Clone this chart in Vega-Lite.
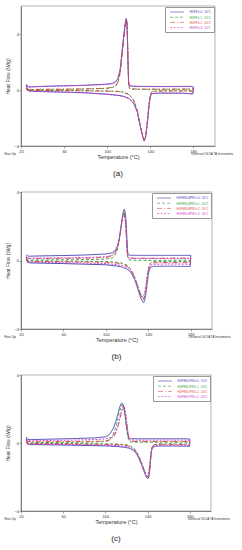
{
"$schema":"https://vega.github.io/schema/vega-lite/v6.json",
"background":"white",
"padding":{"left":4,"top":5,"right":2,"bottom":0},
"spacing":10,
"config":{
 "font":"Liberation Sans",
 "view":{"stroke":"#666","strokeWidth":0.5},
 "axis":{"grid":false,"labelFontSize":4,"titleFontSize":5,"titleFontWeight":"normal","tickSize":2,"tickWidth":0.5,"domainWidth":0.6,"domainColor":"#444","tickColor":"#444","labelColor":"#333","titleColor":"#333","labelPadding":1,"labelOverlap":false,"labelFlush":false},
 "axisY":{"titlePadding":3,"labelPadding":0.5},
 "axisX":{"titlePadding":1.5,"titleFontSize":5.5},
 "legend":{"orient":"top-right","offset":1,"title":null,"symbolType":"M-4,0H4","symbolSize":12,"symbolOffset":7,"symbolStrokeWidth":0.6,"labelFontSize":2.8,"rowPadding":0.2,"padding":2.5,"strokeColor":"#999","fillColor":"white","labelOffset":10,"labelColor":{"expr":"['#3b3bb3','#2e9a3a','#d9453a','#cc33cc'][datum.value-1]"}},
 "title":{"orient":"bottom","fontSize":8,"fontWeight":"normal","color":"#222","offset":10}
},
"resolve":{"scale":{"x":"independent","y":"independent","color":"independent","strokeDash":"independent"}},
"datasets":{
"a":[
{"s":1,"b":0,"t":25,"v":0.35},{"s":1,"b":0,"t":26,"v":0},{"s":1,"b":0,"t":28,"v":-0.08},{"s":1,"b":0,"t":40,"v":-0.11},{"s":1,"b":0,"t":60,"v":-0.15},{"s":1,"b":0,"t":80,"v":-0.2},{"s":1,"b":0,"t":100,"v":-0.3},{"s":1,"b":0,"t":110,"v":-0.38},{"s":1,"b":0,"t":115,"v":-0.45},{"s":1,"b":0,"t":120,"v":-0.6},{"s":1,"b":0,"t":124,"v":-0.9},{"s":1,"b":0,"t":126,"v":-1.2},{"s":1,"b":0,"t":128,"v":-1.6},{"s":1,"b":0,"t":129,"v":-2.0},{"s":1,"b":0,"t":131,"v":-2.7},{"s":1,"b":0,"t":133,"v":-3.35},{"s":1,"b":0,"t":134.2,"v":-3.65},{"s":1,"b":0,"t":135.5,"v":-3.4},{"s":1,"b":0,"t":136.5,"v":-2.8},{"s":1,"b":0,"t":137.5,"v":-2.1},{"s":1,"b":0,"t":138.5,"v":-1.3},{"s":1,"b":0,"t":139.5,"v":-0.65},{"s":1,"b":0,"t":140.5,"v":-0.35},{"s":1,"b":0,"t":142,"v":-0.25},{"s":1,"b":0,"t":150,"v":-0.22},{"s":1,"b":0,"t":170,"v":-0.23},{"s":1,"b":0,"t":179.5,"v":-0.28},{"s":1,"b":0,"t":180,"v":0.22},
{"s":1,"b":1,"t":180,"v":0.22},{"s":1,"b":1,"t":178,"v":0.26},{"s":1,"b":1,"t":150,"v":0.25},{"s":1,"b":1,"t":130,"v":0.26},{"s":1,"b":1,"t":122,"v":0.28},{"s":1,"b":1,"t":120.5,"v":0.32},{"s":1,"b":1,"t":119.8,"v":0.6},{"s":1,"b":1,"t":119.3,"v":1.8},{"s":1,"b":1,"t":118.8,"v":3.5},{"s":1,"b":1,"t":118.2,"v":4.9},{"s":1,"b":1,"t":117.5,"v":5.1},{"s":1,"b":1,"t":116.5,"v":4.7},{"s":1,"b":1,"t":115,"v":3.7},{"s":1,"b":1,"t":113.5,"v":2.6},{"s":1,"b":1,"t":112,"v":1.5},{"s":1,"b":1,"t":110,"v":0.85},{"s":1,"b":1,"t":108,"v":0.6},{"s":1,"b":1,"t":105,"v":0.48},{"s":1,"b":1,"t":100,"v":0.42},{"s":1,"b":1,"t":80,"v":0.34},{"s":1,"b":1,"t":60,"v":0.3},{"s":1,"b":1,"t":40,"v":0.26},{"s":1,"b":1,"t":27,"v":0.22},{"s":1,"b":1,"t":26,"v":0.3},{"s":1,"b":1,"t":25,"v":0.4},
{"s":2,"b":0,"t":25,"v":0.1},{"s":2,"b":0,"t":26,"v":-0.02},{"s":2,"b":0,"t":40,"v":-0.03},{"s":2,"b":0,"t":80,"v":-0.05},{"s":2,"b":0,"t":100,"v":-0.07},{"s":2,"b":0,"t":110,"v":-0.1},{"s":2,"b":0,"t":115,"v":-0.15},{"s":2,"b":0,"t":120,"v":-0.3},{"s":2,"b":0,"t":124,"v":-0.65},{"s":2,"b":0,"t":126,"v":-1.0},{"s":2,"b":0,"t":128,"v":-1.5},{"s":2,"b":0,"t":129,"v":-1.9},{"s":2,"b":0,"t":131,"v":-2.65},{"s":2,"b":0,"t":133,"v":-3.3},{"s":2,"b":0,"t":134.3,"v":-3.6},{"s":2,"b":0,"t":135.6,"v":-3.35},{"s":2,"b":0,"t":136.6,"v":-2.75},{"s":2,"b":0,"t":137.6,"v":-2.05},{"s":2,"b":0,"t":138.6,"v":-1.2},{"s":2,"b":0,"t":139.6,"v":-0.5},{"s":2,"b":0,"t":140.6,"v":-0.2},{"s":2,"b":0,"t":142,"v":-0.1},{"s":2,"b":0,"t":150,"v":-0.06},{"s":2,"b":0,"t":170,"v":-0.06},{"s":2,"b":0,"t":179.5,"v":-0.07},{"s":2,"b":0,"t":180,"v":0.05},
{"s":2,"b":1,"t":180,"v":0.05},{"s":2,"b":1,"t":178,"v":0.06},{"s":2,"b":1,"t":150,"v":0.05},{"s":2,"b":1,"t":130,"v":0.05},{"s":2,"b":1,"t":122,"v":0.07},{"s":2,"b":1,"t":120.5,"v":0.12},{"s":2,"b":1,"t":119.9,"v":0.45},{"s":2,"b":1,"t":119.4,"v":1.7},{"s":2,"b":1,"t":118.9,"v":3.4},{"s":2,"b":1,"t":118.3,"v":4.8},{"s":2,"b":1,"t":117.6,"v":5.05},{"s":2,"b":1,"t":116.6,"v":4.6},{"s":2,"b":1,"t":115.1,"v":3.5},{"s":2,"b":1,"t":113.6,"v":2.35},{"s":2,"b":1,"t":112.1,"v":1.25},{"s":2,"b":1,"t":110,"v":0.55},{"s":2,"b":1,"t":108,"v":0.3},{"s":2,"b":1,"t":105,"v":0.18},{"s":2,"b":1,"t":100,"v":0.12},{"s":2,"b":1,"t":80,"v":0.07},{"s":2,"b":1,"t":60,"v":0.05},{"s":2,"b":1,"t":40,"v":0.04},{"s":2,"b":1,"t":27,"v":0.03},{"s":2,"b":1,"t":26,"v":0.08},{"s":2,"b":1,"t":25,"v":0.12},
{"s":3,"b":0,"t":25,"v":0.12},{"s":3,"b":0,"t":26,"v":-0.03},{"s":3,"b":0,"t":40,"v":-0.04},{"s":3,"b":0,"t":80,"v":-0.06},{"s":3,"b":0,"t":100,"v":-0.08},{"s":3,"b":0,"t":110,"v":-0.11},{"s":3,"b":0,"t":115,"v":-0.17},{"s":3,"b":0,"t":120,"v":-0.33},{"s":3,"b":0,"t":124,"v":-0.68},{"s":3,"b":0,"t":126,"v":-1.02},{"s":3,"b":0,"t":128,"v":-1.52},{"s":3,"b":0,"t":129,"v":-1.92},{"s":3,"b":0,"t":131,"v":-2.66},{"s":3,"b":0,"t":133,"v":-3.32},{"s":3,"b":0,"t":134.3,"v":-3.62},{"s":3,"b":0,"t":135.6,"v":-3.36},{"s":3,"b":0,"t":136.6,"v":-2.76},{"s":3,"b":0,"t":137.6,"v":-2.06},{"s":3,"b":0,"t":138.6,"v":-1.22},{"s":3,"b":0,"t":139.6,"v":-0.52},{"s":3,"b":0,"t":140.6,"v":-0.22},{"s":3,"b":0,"t":142,"v":-0.11},{"s":3,"b":0,"t":150,"v":-0.07},{"s":3,"b":0,"t":170,"v":-0.07},{"s":3,"b":0,"t":179.5,"v":-0.08},{"s":3,"b":0,"t":180,"v":0.06},
{"s":3,"b":1,"t":180,"v":0.06},{"s":3,"b":1,"t":178,"v":0.07},{"s":3,"b":1,"t":150,"v":0.06},{"s":3,"b":1,"t":130,"v":0.06},{"s":3,"b":1,"t":122,"v":0.08},{"s":3,"b":1,"t":120.5,"v":0.13},{"s":3,"b":1,"t":119.9,"v":0.47},{"s":3,"b":1,"t":119.4,"v":1.72},{"s":3,"b":1,"t":118.9,"v":3.42},{"s":3,"b":1,"t":118.3,"v":4.82},{"s":3,"b":1,"t":117.6,"v":5.06},{"s":3,"b":1,"t":116.6,"v":4.62},{"s":3,"b":1,"t":115.1,"v":3.52},{"s":3,"b":1,"t":113.6,"v":2.37},{"s":3,"b":1,"t":112.1,"v":1.27},{"s":3,"b":1,"t":110,"v":0.57},{"s":3,"b":1,"t":108,"v":0.32},{"s":3,"b":1,"t":105,"v":0.2},{"s":3,"b":1,"t":100,"v":0.13},{"s":3,"b":1,"t":80,"v":0.08},{"s":3,"b":1,"t":60,"v":0.06},{"s":3,"b":1,"t":40,"v":0.05},{"s":3,"b":1,"t":27,"v":0.04},{"s":3,"b":1,"t":26,"v":0.09},{"s":3,"b":1,"t":25,"v":0.13},
{"s":4,"b":0,"t":25,"v":0.3},{"s":4,"b":0,"t":26,"v":-0.02},{"s":4,"b":0,"t":28,"v":-0.09},{"s":4,"b":0,"t":40,"v":-0.12},{"s":4,"b":0,"t":60,"v":-0.16},{"s":4,"b":0,"t":80,"v":-0.21},{"s":4,"b":0,"t":100,"v":-0.31},{"s":4,"b":0,"t":110,"v":-0.39},{"s":4,"b":0,"t":115,"v":-0.46},{"s":4,"b":0,"t":120,"v":-0.62},{"s":4,"b":0,"t":124,"v":-0.92},{"s":4,"b":0,"t":126,"v":-1.2},{"s":4,"b":0,"t":128,"v":-1.58},{"s":4,"b":0,"t":129,"v":-1.95},{"s":4,"b":0,"t":131,"v":-2.65},{"s":4,"b":0,"t":133,"v":-3.3},{"s":4,"b":0,"t":134.4,"v":-3.6},{"s":4,"b":0,"t":135.7,"v":-3.35},{"s":4,"b":0,"t":136.7,"v":-2.75},{"s":4,"b":0,"t":137.7,"v":-2.05},{"s":4,"b":0,"t":138.7,"v":-1.25},{"s":4,"b":0,"t":139.7,"v":-0.62},{"s":4,"b":0,"t":140.7,"v":-0.34},{"s":4,"b":0,"t":142,"v":-0.25},{"s":4,"b":0,"t":150,"v":-0.23},{"s":4,"b":0,"t":170,"v":-0.24},{"s":4,"b":0,"t":179.5,"v":-0.27},{"s":4,"b":0,"t":180,"v":0.2},
{"s":4,"b":1,"t":180,"v":0.2},{"s":4,"b":1,"t":178,"v":0.24},{"s":4,"b":1,"t":150,"v":0.24},{"s":4,"b":1,"t":130,"v":0.25},{"s":4,"b":1,"t":122,"v":0.27},{"s":4,"b":1,"t":120.5,"v":0.31},{"s":4,"b":1,"t":119.9,"v":0.6},{"s":4,"b":1,"t":119.4,"v":1.8},{"s":4,"b":1,"t":118.9,"v":3.4},{"s":4,"b":1,"t":118.3,"v":4.8},{"s":4,"b":1,"t":117.7,"v":5.0},{"s":4,"b":1,"t":116.7,"v":4.6},{"s":4,"b":1,"t":115.2,"v":3.6},{"s":4,"b":1,"t":113.7,"v":2.5},{"s":4,"b":1,"t":112.2,"v":1.45},{"s":4,"b":1,"t":110,"v":0.82},{"s":4,"b":1,"t":108,"v":0.58},{"s":4,"b":1,"t":105,"v":0.46},{"s":4,"b":1,"t":100,"v":0.4},{"s":4,"b":1,"t":80,"v":0.33},{"s":4,"b":1,"t":60,"v":0.29},{"s":4,"b":1,"t":40,"v":0.25},{"s":4,"b":1,"t":27,"v":0.21},{"s":4,"b":1,"t":26,"v":0.28},{"s":4,"b":1,"t":25,"v":0.36}
],
"b":[
{"s":1,"b":0,"t":25,"v":0.2},{"s":1,"b":0,"t":26,"v":-0.1},{"s":1,"b":0,"t":28,"v":-0.14},{"s":1,"b":0,"t":60,"v":-0.18},{"s":1,"b":0,"t":100,"v":-0.25},{"s":1,"b":0,"t":110,"v":-0.32},{"s":1,"b":0,"t":115,"v":-0.38},{"s":1,"b":0,"t":120,"v":-0.5},{"s":1,"b":0,"t":123,"v":-0.65},{"s":1,"b":0,"t":125,"v":-0.85},{"s":1,"b":0,"t":127,"v":-1.1},{"s":1,"b":0,"t":129,"v":-1.45},{"s":1,"b":0,"t":131,"v":-1.85},{"s":1,"b":0,"t":133,"v":-2.2},{"s":1,"b":0,"t":134.5,"v":-2.4},{"s":1,"b":0,"t":135.7,"v":-2.45},{"s":1,"b":0,"t":136.7,"v":-2.3},{"s":1,"b":0,"t":137.7,"v":-1.95},{"s":1,"b":0,"t":138.7,"v":-1.45},{"s":1,"b":0,"t":139.7,"v":-0.95},{"s":1,"b":0,"t":140.7,"v":-0.6},{"s":1,"b":0,"t":142,"v":-0.4},{"s":1,"b":0,"t":145,"v":-0.34},{"s":1,"b":0,"t":160,"v":-0.33},{"s":1,"b":0,"t":179.5,"v":-0.35},{"s":1,"b":0,"t":180,"v":0.3},
{"s":1,"b":1,"t":180,"v":0.3},{"s":1,"b":1,"t":178,"v":0.3},{"s":1,"b":1,"t":150,"v":0.3},{"s":1,"b":1,"t":130,"v":0.3},{"s":1,"b":1,"t":122,"v":0.31},{"s":1,"b":1,"t":121,"v":0.35},{"s":1,"b":1,"t":120.3,"v":0.6},{"s":1,"b":1,"t":119.8,"v":1.3},{"s":1,"b":1,"t":119.2,"v":2.1},{"s":1,"b":1,"t":118.5,"v":2.7},{"s":1,"b":1,"t":117.5,"v":3.0},{"s":1,"b":1,"t":116.5,"v":2.9},{"s":1,"b":1,"t":115.5,"v":2.55},{"s":1,"b":1,"t":114.5,"v":2.1},{"s":1,"b":1,"t":113.5,"v":1.65},{"s":1,"b":1,"t":112.5,"v":1.25},{"s":1,"b":1,"t":111,"v":0.85},{"s":1,"b":1,"t":109,"v":0.6},{"s":1,"b":1,"t":106,"v":0.45},{"s":1,"b":1,"t":100,"v":0.38},{"s":1,"b":1,"t":80,"v":0.32},{"s":1,"b":1,"t":60,"v":0.29},{"s":1,"b":1,"t":40,"v":0.27},{"s":1,"b":1,"t":27,"v":0.25},{"s":1,"b":1,"t":26,"v":0.3},{"s":1,"b":1,"t":25,"v":0.32},
{"s":2,"b":0,"t":25,"v":0.08},{"s":2,"b":0,"t":26,"v":-0.03},{"s":2,"b":0,"t":60,"v":-0.04},{"s":2,"b":0,"t":100,"v":-0.06},{"s":2,"b":0,"t":110,"v":-0.1},{"s":2,"b":0,"t":115,"v":-0.15},{"s":2,"b":0,"t":120,"v":-0.28},{"s":2,"b":0,"t":123,"v":-0.45},{"s":2,"b":0,"t":125,"v":-0.68},{"s":2,"b":0,"t":127,"v":-0.95},{"s":2,"b":0,"t":129,"v":-1.3},{"s":2,"b":0,"t":131,"v":-1.68},{"s":2,"b":0,"t":133,"v":-2.02},{"s":2,"b":0,"t":134.5,"v":-2.2},{"s":2,"b":0,"t":135.6,"v":-2.22},{"s":2,"b":0,"t":136.6,"v":-2.05},{"s":2,"b":0,"t":137.6,"v":-1.7},{"s":2,"b":0,"t":138.6,"v":-1.2},{"s":2,"b":0,"t":139.6,"v":-0.7},{"s":2,"b":0,"t":140.6,"v":-0.35},{"s":2,"b":0,"t":142,"v":-0.15},{"s":2,"b":0,"t":145,"v":-0.07},{"s":2,"b":0,"t":160,"v":-0.05},{"s":2,"b":0,"t":179.5,"v":-0.06},{"s":2,"b":0,"t":180,"v":0.02},
{"s":2,"b":1,"t":180,"v":0.02},{"s":2,"b":1,"t":178,"v":0.02},{"s":2,"b":1,"t":150,"v":0.01},{"s":2,"b":1,"t":130,"v":0.01},{"s":2,"b":1,"t":122,"v":0.03},{"s":2,"b":1,"t":121,"v":0.08},{"s":2,"b":1,"t":120.2,"v":0.35},{"s":2,"b":1,"t":119.6,"v":1.0},{"s":2,"b":1,"t":119,"v":1.8},{"s":2,"b":1,"t":118.2,"v":2.45},{"s":2,"b":1,"t":117.2,"v":2.75},{"s":2,"b":1,"t":116.2,"v":2.65},{"s":2,"b":1,"t":115.2,"v":2.3},{"s":2,"b":1,"t":114.2,"v":1.85},{"s":2,"b":1,"t":113.2,"v":1.4},{"s":2,"b":1,"t":112,"v":0.95},{"s":2,"b":1,"t":110.5,"v":0.55},{"s":2,"b":1,"t":108.5,"v":0.3},{"s":2,"b":1,"t":106,"v":0.15},{"s":2,"b":1,"t":100,"v":0.08},{"s":2,"b":1,"t":80,"v":0.05},{"s":2,"b":1,"t":60,"v":0.04},{"s":2,"b":1,"t":40,"v":0.03},{"s":2,"b":1,"t":27,"v":0.03},{"s":2,"b":1,"t":26,"v":0.08},{"s":2,"b":1,"t":25,"v":0.1},
{"s":3,"b":0,"t":25,"v":0.1},{"s":3,"b":0,"t":26,"v":-0.05},{"s":3,"b":0,"t":60,"v":-0.07},{"s":3,"b":0,"t":100,"v":-0.1},{"s":3,"b":0,"t":110,"v":-0.15},{"s":3,"b":0,"t":115,"v":-0.2},{"s":3,"b":0,"t":120,"v":-0.33},{"s":3,"b":0,"t":123,"v":-0.5},{"s":3,"b":0,"t":125,"v":-0.72},{"s":3,"b":0,"t":127,"v":-0.98},{"s":3,"b":0,"t":129,"v":-1.32},{"s":3,"b":0,"t":131,"v":-1.7},{"s":3,"b":0,"t":133,"v":-2.05},{"s":3,"b":0,"t":134.5,"v":-2.25},{"s":3,"b":0,"t":135.6,"v":-2.28},{"s":3,"b":0,"t":136.6,"v":-2.1},{"s":3,"b":0,"t":137.6,"v":-1.75},{"s":3,"b":0,"t":138.6,"v":-1.25},{"s":3,"b":0,"t":139.6,"v":-0.75},{"s":3,"b":0,"t":140.6,"v":-0.4},{"s":3,"b":0,"t":142,"v":-0.2},{"s":3,"b":0,"t":145,"v":-0.13},{"s":3,"b":0,"t":160,"v":-0.12},{"s":3,"b":0,"t":179.5,"v":-0.13},{"s":3,"b":0,"t":180,"v":0.14},
{"s":3,"b":1,"t":180,"v":0.14},{"s":3,"b":1,"t":178,"v":0.14},{"s":3,"b":1,"t":150,"v":0.13},{"s":3,"b":1,"t":130,"v":0.13},{"s":3,"b":1,"t":122,"v":0.14},{"s":3,"b":1,"t":121,"v":0.19},{"s":3,"b":1,"t":120.2,"v":0.45},{"s":3,"b":1,"t":119.6,"v":1.1},{"s":3,"b":1,"t":119,"v":1.9},{"s":3,"b":1,"t":118.2,"v":2.5},{"s":3,"b":1,"t":117.2,"v":2.8},{"s":3,"b":1,"t":116.2,"v":2.7},{"s":3,"b":1,"t":115.2,"v":2.35},{"s":3,"b":1,"t":114.2,"v":1.9},{"s":3,"b":1,"t":113.2,"v":1.48},{"s":3,"b":1,"t":112,"v":1.05},{"s":3,"b":1,"t":110.5,"v":0.68},{"s":3,"b":1,"t":108.5,"v":0.42},{"s":3,"b":1,"t":106,"v":0.26},{"s":3,"b":1,"t":100,"v":0.18},{"s":3,"b":1,"t":80,"v":0.14},{"s":3,"b":1,"t":60,"v":0.13},{"s":3,"b":1,"t":40,"v":0.12},{"s":3,"b":1,"t":27,"v":0.12},{"s":3,"b":1,"t":26,"v":0.17},{"s":3,"b":1,"t":25,"v":0.2},
{"s":4,"b":0,"t":25,"v":0.15},{"s":4,"b":0,"t":26,"v":-0.06},{"s":4,"b":0,"t":28,"v":-0.1},{"s":4,"b":0,"t":60,"v":-0.13},{"s":4,"b":0,"t":100,"v":-0.18},{"s":4,"b":0,"t":110,"v":-0.24},{"s":4,"b":0,"t":115,"v":-0.3},{"s":4,"b":0,"t":120,"v":-0.42},{"s":4,"b":0,"t":123,"v":-0.58},{"s":4,"b":0,"t":125,"v":-0.78},{"s":4,"b":0,"t":127,"v":-1.02},{"s":4,"b":0,"t":129,"v":-1.35},{"s":4,"b":0,"t":131,"v":-1.7},{"s":4,"b":0,"t":133,"v":-2.0},{"s":4,"b":0,"t":134.5,"v":-2.15},{"s":4,"b":0,"t":135.5,"v":-2.1},{"s":4,"b":0,"t":136.5,"v":-1.9},{"s":4,"b":0,"t":137.5,"v":-1.55},{"s":4,"b":0,"t":138.5,"v":-1.1},{"s":4,"b":0,"t":139.5,"v":-0.7},{"s":4,"b":0,"t":140.5,"v":-0.42},{"s":4,"b":0,"t":142,"v":-0.28},{"s":4,"b":0,"t":145,"v":-0.22},{"s":4,"b":0,"t":160,"v":-0.2},{"s":4,"b":0,"t":179.5,"v":-0.22},{"s":4,"b":0,"t":180,"v":0.12},
{"s":4,"b":1,"t":180,"v":0.12},{"s":4,"b":1,"t":178,"v":0.12},{"s":4,"b":1,"t":150,"v":0.12},{"s":4,"b":1,"t":130,"v":0.12},{"s":4,"b":1,"t":122,"v":0.13},{"s":4,"b":1,"t":121,"v":0.18},{"s":4,"b":1,"t":120.2,"v":0.45},{"s":4,"b":1,"t":119.6,"v":1.1},{"s":4,"b":1,"t":119,"v":1.85},{"s":4,"b":1,"t":118.2,"v":2.4},{"s":4,"b":1,"t":117,"v":2.65},{"s":4,"b":1,"t":116,"v":2.55},{"s":4,"b":1,"t":115,"v":2.25},{"s":4,"b":1,"t":114,"v":1.85},{"s":4,"b":1,"t":113,"v":1.45},{"s":4,"b":1,"t":112,"v":1.1},{"s":4,"b":1,"t":110.5,"v":0.75},{"s":4,"b":1,"t":108.5,"v":0.5},{"s":4,"b":1,"t":106,"v":0.32},{"s":4,"b":1,"t":100,"v":0.22},{"s":4,"b":1,"t":80,"v":0.17},{"s":4,"b":1,"t":60,"v":0.15},{"s":4,"b":1,"t":40,"v":0.14},{"s":4,"b":1,"t":27,"v":0.13},{"s":4,"b":1,"t":26,"v":0.2},{"s":4,"b":1,"t":25,"v":0.22}
],
"c":[
{"s":1,"b":0,"t":25,"v":0.25},{"s":1,"b":0,"t":26,"v":-0.05},{"s":1,"b":0,"t":28,"v":-0.09},{"s":1,"b":0,"t":60,"v":-0.12},{"s":1,"b":0,"t":100,"v":-0.17},{"s":1,"b":0,"t":110,"v":-0.2},{"s":1,"b":0,"t":118,"v":-0.25},{"s":1,"b":0,"t":122,"v":-0.3},{"s":1,"b":0,"t":125,"v":-0.38},{"s":1,"b":0,"t":128,"v":-0.52},{"s":1,"b":0,"t":130,"v":-0.7},{"s":1,"b":0,"t":132,"v":-0.95},{"s":1,"b":0,"t":134,"v":-1.25},{"s":1,"b":0,"t":136,"v":-1.58},{"s":1,"b":0,"t":138,"v":-1.9},{"s":1,"b":0,"t":139.2,"v":-2.05},{"s":1,"b":0,"t":140.2,"v":-2.1},{"s":1,"b":0,"t":141,"v":-2.0},{"s":1,"b":0,"t":141.8,"v":-1.7},{"s":1,"b":0,"t":142.5,"v":-1.2},{"s":1,"b":0,"t":143.2,"v":-0.7},{"s":1,"b":0,"t":144,"v":-0.38},{"s":1,"b":0,"t":145.5,"v":-0.22},{"s":1,"b":0,"t":150,"v":-0.18},{"s":1,"b":0,"t":170,"v":-0.18},{"s":1,"b":0,"t":179.5,"v":-0.2},{"s":1,"b":0,"t":180,"v":0.22},
{"s":1,"b":1,"t":180,"v":0.22},{"s":1,"b":1,"t":178,"v":0.25},{"s":1,"b":1,"t":150,"v":0.25},{"s":1,"b":1,"t":130,"v":0.25},{"s":1,"b":1,"t":124,"v":0.26},{"s":1,"b":1,"t":122.5,"v":0.28},{"s":1,"b":1,"t":121.5,"v":0.4},{"s":1,"b":1,"t":120.5,"v":0.75},{"s":1,"b":1,"t":119.5,"v":1.2},{"s":1,"b":1,"t":118.5,"v":1.7},{"s":1,"b":1,"t":117.5,"v":2.1},{"s":1,"b":1,"t":116.5,"v":2.3},{"s":1,"b":1,"t":115.4,"v":2.35},{"s":1,"b":1,"t":114.3,"v":2.25},{"s":1,"b":1,"t":113,"v":2.0},{"s":1,"b":1,"t":111.5,"v":1.65},{"s":1,"b":1,"t":110,"v":1.3},{"s":1,"b":1,"t":108,"v":0.95},{"s":1,"b":1,"t":106,"v":0.7},{"s":1,"b":1,"t":104,"v":0.52},{"s":1,"b":1,"t":102,"v":0.42},{"s":1,"b":1,"t":100,"v":0.36},{"s":1,"b":1,"t":90,"v":0.3},{"s":1,"b":1,"t":70,"v":0.26},{"s":1,"b":1,"t":50,"v":0.23},{"s":1,"b":1,"t":30,"v":0.2},{"s":1,"b":1,"t":26,"v":0.22},{"s":1,"b":1,"t":25,"v":0.35},
{"s":2,"b":0,"t":25,"v":0.1},{"s":2,"b":0,"t":26,"v":-0.02},{"s":2,"b":0,"t":60,"v":-0.03},{"s":2,"b":0,"t":100,"v":-0.05},{"s":2,"b":0,"t":110,"v":-0.06},{"s":2,"b":0,"t":118,"v":-0.09},{"s":2,"b":0,"t":122,"v":-0.13},{"s":2,"b":0,"t":125,"v":-0.22},{"s":2,"b":0,"t":128,"v":-0.38},{"s":2,"b":0,"t":130,"v":-0.57},{"s":2,"b":0,"t":132,"v":-0.82},{"s":2,"b":0,"t":134,"v":-1.13},{"s":2,"b":0,"t":136,"v":-1.47},{"s":2,"b":0,"t":138,"v":-1.8},{"s":2,"b":0,"t":139.2,"v":-1.95},{"s":2,"b":0,"t":140.2,"v":-1.98},{"s":2,"b":0,"t":141,"v":-1.88},{"s":2,"b":0,"t":141.8,"v":-1.58},{"s":2,"b":0,"t":142.5,"v":-1.1},{"s":2,"b":0,"t":143.2,"v":-0.6},{"s":2,"b":0,"t":144,"v":-0.28},{"s":2,"b":0,"t":145.5,"v":-0.1},{"s":2,"b":0,"t":150,"v":-0.05},{"s":2,"b":0,"t":170,"v":-0.05},{"s":2,"b":0,"t":179.5,"v":-0.06},{"s":2,"b":0,"t":180,"v":0.04},
{"s":2,"b":1,"t":180,"v":0.04},{"s":2,"b":1,"t":178,"v":0.05},{"s":2,"b":1,"t":150,"v":0.05},{"s":2,"b":1,"t":130,"v":0.05},{"s":2,"b":1,"t":124,"v":0.06},{"s":2,"b":1,"t":122.5,"v":0.1},{"s":2,"b":1,"t":121.5,"v":0.28},{"s":2,"b":1,"t":120.5,"v":0.65},{"s":2,"b":1,"t":119.5,"v":1.1},{"s":2,"b":1,"t":118.5,"v":1.6},{"s":2,"b":1,"t":117.5,"v":2.0},{"s":2,"b":1,"t":116.5,"v":2.2},{"s":2,"b":1,"t":115.6,"v":2.25},{"s":2,"b":1,"t":114.5,"v":2.1},{"s":2,"b":1,"t":113,"v":1.75},{"s":2,"b":1,"t":111.5,"v":1.35},{"s":2,"b":1,"t":110,"v":0.98},{"s":2,"b":1,"t":108,"v":0.6},{"s":2,"b":1,"t":106,"v":0.35},{"s":2,"b":1,"t":104,"v":0.2},{"s":2,"b":1,"t":102,"v":0.12},{"s":2,"b":1,"t":100,"v":0.09},{"s":2,"b":1,"t":90,"v":0.06},{"s":2,"b":1,"t":70,"v":0.04},{"s":2,"b":1,"t":50,"v":0.03},{"s":2,"b":1,"t":30,"v":0.03},{"s":2,"b":1,"t":26,"v":0.06},{"s":2,"b":1,"t":25,"v":0.12},
{"s":3,"b":0,"t":25,"v":0.12},{"s":3,"b":0,"t":26,"v":-0.04},{"s":3,"b":0,"t":60,"v":-0.05},{"s":3,"b":0,"t":100,"v":-0.08},{"s":3,"b":0,"t":110,"v":-0.09},{"s":3,"b":0,"t":118,"v":-0.12},{"s":3,"b":0,"t":122,"v":-0.17},{"s":3,"b":0,"t":125,"v":-0.26},{"s":3,"b":0,"t":128,"v":-0.42},{"s":3,"b":0,"t":130,"v":-0.6},{"s":3,"b":0,"t":132,"v":-0.85},{"s":3,"b":0,"t":134,"v":-1.15},{"s":3,"b":0,"t":136,"v":-1.48},{"s":3,"b":0,"t":138,"v":-1.82},{"s":3,"b":0,"t":139.2,"v":-1.97},{"s":3,"b":0,"t":140.2,"v":-2.0},{"s":3,"b":0,"t":141,"v":-1.9},{"s":3,"b":0,"t":141.8,"v":-1.6},{"s":3,"b":0,"t":142.5,"v":-1.12},{"s":3,"b":0,"t":143.2,"v":-0.62},{"s":3,"b":0,"t":144,"v":-0.3},{"s":3,"b":0,"t":145.5,"v":-0.13},{"s":3,"b":0,"t":150,"v":-0.08},{"s":3,"b":0,"t":170,"v":-0.08},{"s":3,"b":0,"t":179.5,"v":-0.09},{"s":3,"b":0,"t":180,"v":0.08},
{"s":3,"b":1,"t":180,"v":0.08},{"s":3,"b":1,"t":178,"v":0.09},{"s":3,"b":1,"t":150,"v":0.09},{"s":3,"b":1,"t":130,"v":0.09},{"s":3,"b":1,"t":124,"v":0.1},{"s":3,"b":1,"t":123,"v":0.14},{"s":3,"b":1,"t":122,"v":0.35},{"s":3,"b":1,"t":121,"v":0.75},{"s":3,"b":1,"t":120,"v":1.25},{"s":3,"b":1,"t":119,"v":1.72},{"s":3,"b":1,"t":118,"v":2.05},{"s":3,"b":1,"t":117.2,"v":2.17},{"s":3,"b":1,"t":116.2,"v":2.08},{"s":3,"b":1,"t":115,"v":1.78},{"s":3,"b":1,"t":113.5,"v":1.38},{"s":3,"b":1,"t":112,"v":1.0},{"s":3,"b":1,"t":110,"v":0.62},{"s":3,"b":1,"t":108,"v":0.38},{"s":3,"b":1,"t":105,"v":0.2},{"s":3,"b":1,"t":100,"v":0.12},{"s":3,"b":1,"t":90,"v":0.1},{"s":3,"b":1,"t":70,"v":0.09},{"s":3,"b":1,"t":50,"v":0.08},{"s":3,"b":1,"t":30,"v":0.07},{"s":3,"b":1,"t":26,"v":0.1},{"s":3,"b":1,"t":25,"v":0.18},
{"s":4,"b":0,"t":25,"v":0.2},{"s":4,"b":0,"t":26,"v":-0.04},{"s":4,"b":0,"t":28,"v":-0.07},{"s":4,"b":0,"t":60,"v":-0.09},{"s":4,"b":0,"t":100,"v":-0.13},{"s":4,"b":0,"t":110,"v":-0.15},{"s":4,"b":0,"t":118,"v":-0.19},{"s":4,"b":0,"t":122,"v":-0.24},{"s":4,"b":0,"t":125,"v":-0.32},{"s":4,"b":0,"t":128,"v":-0.46},{"s":4,"b":0,"t":130,"v":-0.64},{"s":4,"b":0,"t":132,"v":-0.88},{"s":4,"b":0,"t":134,"v":-1.18},{"s":4,"b":0,"t":136,"v":-1.5},{"s":4,"b":0,"t":137.8,"v":-1.8},{"s":4,"b":0,"t":139,"v":-1.94},{"s":4,"b":0,"t":140,"v":-1.9},{"s":4,"b":0,"t":140.8,"v":-1.72},{"s":4,"b":0,"t":141.6,"v":-1.4},{"s":4,"b":0,"t":142.3,"v":-0.95},{"s":4,"b":0,"t":143,"v":-0.55},{"s":4,"b":0,"t":144,"v":-0.3},{"s":4,"b":0,"t":145.5,"v":-0.16},{"s":4,"b":0,"t":150,"v":-0.13},{"s":4,"b":0,"t":170,"v":-0.13},{"s":4,"b":0,"t":179.5,"v":-0.15},{"s":4,"b":0,"t":180,"v":0.15},
{"s":4,"b":1,"t":180,"v":0.15},{"s":4,"b":1,"t":178,"v":0.17},{"s":4,"b":1,"t":150,"v":0.17},{"s":4,"b":1,"t":130,"v":0.17},{"s":4,"b":1,"t":124,"v":0.18},{"s":4,"b":1,"t":123,"v":0.22},{"s":4,"b":1,"t":122,"v":0.4},{"s":4,"b":1,"t":121,"v":0.8},{"s":4,"b":1,"t":120,"v":1.3},{"s":4,"b":1,"t":119,"v":1.8},{"s":4,"b":1,"t":118,"v":2.1},{"s":4,"b":1,"t":117.3,"v":2.2},{"s":4,"b":1,"t":116.3,"v":2.1},{"s":4,"b":1,"t":115,"v":1.8},{"s":4,"b":1,"t":113.5,"v":1.4},{"s":4,"b":1,"t":112,"v":1.05},{"s":4,"b":1,"t":110,"v":0.7},{"s":4,"b":1,"t":108,"v":0.48},{"s":4,"b":1,"t":105,"v":0.32},{"s":4,"b":1,"t":100,"v":0.24},{"s":4,"b":1,"t":90,"v":0.2},{"s":4,"b":1,"t":70,"v":0.17},{"s":4,"b":1,"t":50,"v":0.15},{"s":4,"b":1,"t":30,"v":0.13},{"s":4,"b":1,"t":26,"v":0.15},{"s":4,"b":1,"t":25,"v":0.25}
]
},
"vconcat":[
{
 "width":194,"height":140,
 "title":{"text":"(a)"},
 "data":{"name":"a"},
 "layer":[
  {"mark":{"type":"line","strokeWidth":0.9},
   "encoding":{
    "x":{"field":"t","type":"quantitative","scale":{"domain":[20,200],"nice":false},"axis":{"title":"Temperature (°C)","values":[20,40,60,80,100,120,140,160,180,200]}},
    "y":{"field":"v","type":"quantitative","scale":{"domain":[-4,6],"nice":false},"axis":{"title":"Heat Flow (W/g)","values":[-4,-2,0,2,4,6]}},
    "color":{"field":"s","type":"nominal","scale":{"domain":[1,2,3,4],"range":["#3b3bb3","#2e9a3a","#d9453a","#cc33cc"]},"legend":{"labelExpr":"['HDPE h-0 - 50°C','HDPE h-1 - 50°C','HDPE h-2 - 50°C','HDPE h-3 - 50°C'][datum.value-1]"}},
    "strokeDash":{"field":"s","type":"nominal","scale":{"domain":[1,2,3,4],"range":[[1,0],[3,2],[5,2,1,2],[2,1.5]]},"legend":{"labelExpr":"['HDPE h-0 - 50°C','HDPE h-1 - 50°C','HDPE h-2 - 50°C','HDPE h-3 - 50°C'][datum.value-1]"}},
    "detail":{"field":"b"}
   }},
  {"data":{"values":[{}]},"mark":{"type":"text","text":"Exo Up","fontSize":3.5,"align":"right","baseline":"middle","dx":-5,"dy":8,"color":"#333"},
   "encoding":{"x":{"datum":20,"type":"quantitative"},"y":{"datum":-4,"type":"quantitative"}}},
  {"data":{"values":[{}]},"mark":{"type":"text","text":"Universal V4.5A TA Instruments","fontSize":3,"align":"left","baseline":"middle","dy":8,"color":"#333"},
   "encoding":{"x":{"datum":178,"type":"quantitative"},"y":{"datum":-4,"type":"quantitative"}}}
 ]
},
{
 "width":191,"height":137,
 "title":{"text":"(b)"},
 "data":{"name":"b"},
 "layer":[
  {"mark":{"type":"line","strokeWidth":0.9},
   "encoding":{
    "x":{"field":"t","type":"quantitative","scale":{"domain":[20,200],"nice":false},"axis":{"title":"Temperature (°C)","values":[20,40,60,80,100,120,140,160,180,200]}},
    "y":{"field":"v","type":"quantitative","scale":{"domain":[-4,4],"nice":false},"axis":{"title":"Heat Flow (W/g)","values":[-4,-2,0,2,4]}},
    "color":{"field":"s","type":"nominal","scale":{"domain":[1,2,3,4],"range":["#3b3bb3","#2e9a3a","#d9453a","#cc33cc"]},"legend":{"labelExpr":"['HDPE80-BPW h-0 - 50°C','HDPE80-BPW h-1 - 50°C','HDPE80-BPW h-2 - 50°C','HDPE80-BPW h-3 - 50°C'][datum.value-1]"}},
    "strokeDash":{"field":"s","type":"nominal","scale":{"domain":[1,2,3,4],"range":[[1,0],[3,2],[5,2,1,2],[2,1.5]]},"legend":{"labelExpr":"['HDPE80-BPW h-0 - 50°C','HDPE80-BPW h-1 - 50°C','HDPE80-BPW h-2 - 50°C','HDPE80-BPW h-3 - 50°C'][datum.value-1]"}},
    "detail":{"field":"b"}
   }},
  {"data":{"values":[{}]},"mark":{"type":"text","text":"Exo Up","fontSize":3.5,"align":"right","baseline":"middle","dx":-5,"dy":8,"color":"#333"},
   "encoding":{"x":{"datum":20,"type":"quantitative"},"y":{"datum":-4,"type":"quantitative"}}},
  {"data":{"values":[{}]},"mark":{"type":"text","text":"Universal V4.5A TA Instruments","fontSize":3,"align":"left","baseline":"middle","dy":8,"color":"#333"},
   "encoding":{"x":{"datum":178,"type":"quantitative"},"y":{"datum":-4,"type":"quantitative"}}}
 ]
},
{
 "width":190,"height":136,
 "title":{"text":"(c)"},
 "data":{"name":"c"},
 "layer":[
  {"mark":{"type":"line","strokeWidth":0.9},
   "encoding":{
    "x":{"field":"t","type":"quantitative","scale":{"domain":[20,200],"nice":false},"axis":{"title":"Temperature (°C)","values":[20,40,60,80,100,120,140,160,180,200]}},
    "y":{"field":"v","type":"quantitative","scale":{"domain":[-4,4],"nice":false},"axis":{"title":"Heat Flow (W/g)","values":[-4,-2,0,2,4]}},
    "color":{"field":"s","type":"nominal","scale":{"domain":[1,2,3,4],"range":["#3b3bb3","#2e9a3a","#d9453a","#cc33cc"]},"legend":{"labelExpr":"['HDPE80-PW h-0 - 50°C','HDPE80-PW h-1 - 50°C','HDPE80-PW h-2 - 50°C','HDPE80-PW h-3 - 50°C'][datum.value-1]"}},
    "strokeDash":{"field":"s","type":"nominal","scale":{"domain":[1,2,3,4],"range":[[1,0],[3,2],[5,2,1,2],[2,1.5]]},"legend":{"labelExpr":"['HDPE80-PW h-0 - 50°C','HDPE80-PW h-1 - 50°C','HDPE80-PW h-2 - 50°C','HDPE80-PW h-3 - 50°C'][datum.value-1]"}},
    "detail":{"field":"b"}
   }},
  {"data":{"values":[{}]},"mark":{"type":"text","text":"Exo Up","fontSize":3.5,"align":"right","baseline":"middle","dx":-5,"dy":8,"color":"#333"},
   "encoding":{"x":{"datum":20,"type":"quantitative"},"y":{"datum":-4,"type":"quantitative"}}},
  {"data":{"values":[{}]},"mark":{"type":"text","text":"Universal V4.5A TA Instruments","fontSize":3,"align":"left","baseline":"middle","dy":8,"color":"#333"},
   "encoding":{"x":{"datum":178,"type":"quantitative"},"y":{"datum":-4,"type":"quantitative"}}}
 ]
}
]
}
